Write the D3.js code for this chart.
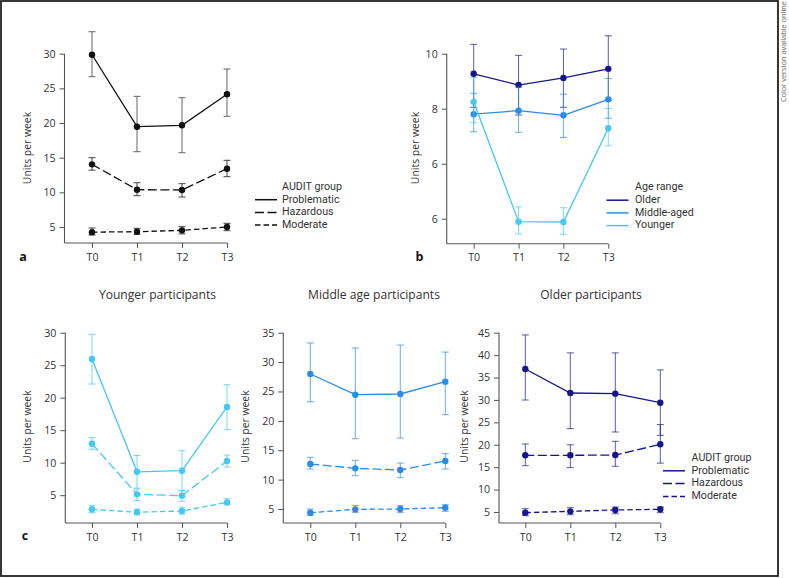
<!DOCTYPE html>
<html><head><meta charset="utf-8">
<script src="https://cdn.jsdelivr.net/npm/d3@7"></script>
<style>
html,body{margin:0;padding:0;background:#fff;}
svg text{font-family:"Open Sans","Noto Sans",sans-serif;}
svg text.leg{font-family:Roboto,"Open Sans",sans-serif;}
</style></head>
<body>
<svg id="chart" width="789" height="578"></svg>
<script>
// ---------------- DATA ----------------
const timepoints = ["T0", "T1", "T2", "T3"];
const auditGroups = ["Problematic", "Hazardous", "Moderate"];
const ageGroups = ["Older", "Middle-aged", "Younger"];

// Panel a: AUDIT groups, all participants
const aMean = [[29.85, 19.47, 19.67, 24.14], [14.04, 10.38, 10.34, 13.41], [4.26, 4.32, 4.52, 5.0]];
const aLow  = [[26.68, 15.86, 15.72, 20.97], [13.2, 9.52, 9.33, 12.26], [3.85, 3.95, 4.0, 4.47]];
const aHigh = [[33.17, 23.85, 23.65, 27.79], [15.0, 11.39, 11.25, 14.62], [4.86, 4.81, 5.05, 5.53]];
const aTicks = [5, 10, 15, 20, 25, 30];
const aTickLabels = ["5", "10", "15", "20", "25", "30"];

// Panel b: age ranges
const bMean = [[9.27, 8.86, 9.12, 9.45], [7.8, 7.93, 7.76, 8.34], [8.25, 3.89, 3.88, 7.29]];
const bLow  = [[8.05, 7.77, 8.05, 8.3], [7.16, 7.14, 6.95, 7.65], [7.49, 3.45, 3.43, 6.65]];
const bHigh = [[10.34, 9.94, 10.17, 10.65], [8.56, 8.78, 8.53, 9.1], [9.13, 4.43, 4.4, 8.01]];
const bTicks = [4, 6, 8, 10];
const bTickLabels = ["6", "6", "8", "10"];

// Panel c: younger participants
const cYoungMean = [[25.95, 8.6, 8.77, 18.57], [12.92, 5.13, 4.93, 10.26], [2.83, 2.37, 2.57, 3.9]];
const cYoungLow  = [[22.1, 6.1, 5.7, 15.08], [12.06, 4.2, 4.05, 9.34], [2.3, 2.0, 2.1, 3.5]];
const cYoungHigh = [[29.75, 11.1, 11.85, 22.0], [13.85, 5.95, 5.7, 11.18], [3.38, 2.88, 3.18, 4.46]];
const cYoungTicks = [5, 10, 15, 20, 25, 30];

// Panel c: middle age participants
const cMidMean = [[27.97, 24.45, 24.57, 26.67], [12.66, 11.92, 11.64, 13.17], [4.37, 4.94, 5.0, 5.22]];
const cMidLow  = [[23.26, 16.96, 17.08, 21.05], [11.8, 10.67, 10.33, 11.8], [3.93, 4.43, 4.43, 4.6]];
const cMidHigh = [[33.25, 32.4, 32.9, 31.7], [13.8, 13.28, 12.83, 14.41], [5.0, 5.62, 5.57, 5.73]];
const cMidTicks = [5, 10, 15, 20, 25, 30, 35];

// Panel c: older participants
const cOldMean = [[36.9, 31.55, 31.4, 29.38], [17.65, 17.65, 17.7, 20.1], [4.85, 5.15, 5.45, 5.6]];
const cOldLow  = [[29.98, 23.6, 22.85, 22.1], [15.33, 14.9, 15.2, 15.9], [4.17, 4.4, 4.62, 4.85]];
const cOldHigh = [[44.5, 40.5, 40.5, 36.7], [20.17, 20.0, 20.77, 24.5], [5.74, 5.96, 6.1, 6.1]];
const cOldTicks = [5, 10, 15, 20, 25, 30, 35, 40, 45];

// ---------------- STYLE ----------------
const cNavy = "#16168c", cMid = "#2a8ce8", cYoung = "#45c8f2";
const dashes = [null, "9,3.5", "5.5,3"];
const axisColor = "#555";
const textColor = "#333";

const svg = d3.select("#chart");

// Frame
svg.append("rect").attr("x", 1).attr("y", 1).attr("width", 777).attr("height", 575)
  .attr("fill", "none").attr("stroke", "#222").attr("stroke-width", 1.8);
svg.append("text").attr("transform", "translate(786,1) rotate(-90)")
  .attr("text-anchor", "end").attr("font-size", 7.4).attr("fill", "#666")
  .text("Color version available online");

function drawPanel(p) {
  const g = svg.append("g");
  const x = d3.scalePoint().domain(timepoints).range(p.xr);
  const y = d3.scaleLinear().domain(p.yd).range(p.yr);
  const bottom = p.bottom;

  // axis lines
  g.append("line").attr("x1", p.ax).attr("x2", p.ax).attr("y1", bottom).attr("y2", y(p.ticks[p.ticks.length - 1]))
    .attr("stroke", axisColor).attr("stroke-width", 1.1);
  g.append("line").attr("x1", p.ax).attr("x2", x(timepoints[3])).attr("y1", bottom).attr("y2", bottom)
    .attr("stroke", axisColor).attr("stroke-width", 1.1);

  const ya = d3.axisLeft(y).tickValues(p.ticks).tickSize(5).tickPadding(4)
    .tickFormat((d, i) => p.tickLabels[i]);
  const yg = g.append("g").attr("transform", `translate(${p.ax},0)`).call(ya);
  yg.select(".domain").remove();
  yg.selectAll("line").attr("stroke", axisColor);
  yg.attr("font-family", null).attr("font-size", null);
  yg.selectAll("text").attr("font-size", 10.6).attr("fill", textColor);

  const xa = d3.axisBottom(x).tickSize(5).tickPadding(5);
  const xg = g.append("g").attr("transform", `translate(0,${bottom})`).call(xa);
  xg.select(".domain").remove();
  xg.selectAll("line").attr("stroke", axisColor);
  xg.attr("font-family", null).attr("font-size", null);
  xg.selectAll("text").attr("font-size", 10.6).attr("fill", textColor);

  // y label
  g.append("text").attr("transform", `translate(${p.ylx},${p.yly}) rotate(-90)`)
    .attr("text-anchor", "middle").attr("dominant-baseline", "middle")
    .attr("font-size", 10.4).attr("fill", textColor).text("Units per week");

  // series
  p.mean.forEach((m, s) => {
    const col = p.colors[s];
    const dash = p.dash[s];
    timepoints.forEach((t, i) => {
      const cx = x(t);
      const eg = g.append("g").attr("stroke", p.errColors ? p.errColors[s] : col)
        .attr("stroke-opacity", p.errOpacity).attr("stroke-width", 1);
      eg.append("line").attr("x1", cx).attr("x2", cx).attr("y1", y(p.low[s][i])).attr("y2", y(p.high[s][i]));
      eg.append("line").attr("x1", cx - 3.5).attr("x2", cx + 3.5).attr("y1", y(p.low[s][i])).attr("y2", y(p.low[s][i]));
      eg.append("line").attr("x1", cx - 3.5).attr("x2", cx + 3.5).attr("y1", y(p.high[s][i])).attr("y2", y(p.high[s][i]));
    });
    const line = d3.line().x((d, i) => x(timepoints[i])).y(d => y(d));
    g.append("path").datum(m).attr("d", line).attr("fill", "none").attr("stroke", col)
      .attr("stroke-width", 1.3).attr("stroke-dasharray", dash);
    g.selectAll(null).data(m).enter().append("circle")
      .attr("cx", (d, i) => x(timepoints[i])).attr("cy", d => y(d)).attr("r", 3.2).attr("fill", col);
  });

  // legend
  if (p.legend) {
    const L = p.legend;
    const lg = g.append("g");
    lg.append("text").attr("class", "leg").attr("x", L.tx).attr("y", L.y0).attr("dominant-baseline", "middle")
      .attr("font-size", 10.7).attr("fill", textColor).text(L.title);
    L.labels.forEach((lab, i) => {
      const yy = L.y0 + L.dy * (i + 1);
      lg.append("line").attr("x1", L.lx).attr("x2", L.lx + 22).attr("y1", yy).attr("y2", yy)
        .attr("stroke", L.colors[i]).attr("stroke-width", 1.5).attr("stroke-dasharray", L.dash[i]);
      lg.append("text").attr("class", "leg").attr("x", L.tx).attr("y", yy).attr("dominant-baseline", "middle")
        .attr("font-size", 10.7).attr("fill", textColor).text(lab);
    });
  }
  if (p.letter) {
    svg.append("text").attr("x", p.letter[0]).attr("y", p.letter[1]).attr("text-anchor", "middle")
      .attr("dominant-baseline", "middle").attr("font-weight", "bold").attr("font-size", 12.5)
      .attr("fill", "#111").text(p.letter[2]);
  }
  if (p.title) {
    svg.append("text").attr("x", p.title[0]).attr("y", p.title[1]).attr("text-anchor", "middle")
      .attr("font-size", 12.1).attr("fill", textColor).text(p.title[2]);
  }
}

const black3 = ["#111", "#111", "#111"];

drawPanel({
  ax: 64.5, xr: [92, 227], yd: [5, 30], yr: [227, 53.7], bottom: 243,
  ticks: aTicks, tickLabels: aTickLabels, ylx: 28, yly: 148,
  mean: aMean, low: aLow, high: aHigh, colors: black3, errColors: ["#666", "#444", "#444"], errOpacity: 1,
  dash: dashes,
  legend: { title: "AUDIT group", labels: auditGroups, lx: 255, tx: 282, y0: 187, dy: 12.7, colors: black3, dash: dashes },
  letter: [23, 258, "a"]
});

drawPanel({
  ax: 446.7, xr: [473.7, 608.3], yd: [4, 10], yr: [218.7, 53.7], bottom: 243.7,
  ticks: bTicks, tickLabels: bTickLabels, ylx: 416.7, yly: 148,
  mean: bMean, low: bLow, high: bHigh, colors: [cNavy, cMid, cYoung], errOpacity: 0.7,
  dash: [null, null, null],
  legend: { title: "Age range", labels: ageGroups, lx: 606.5, tx: 635, y0: 187.5, dy: 12.7, colors: [cNavy, cMid, cYoung], dash: [null, null, null] },
  letter: [419.5, 258, "b"]
});

drawPanel({
  ax: 65.3, xr: [92, 227], yd: [5, 30], yr: [495.2, 332.7], bottom: 523,
  ticks: cYoungTicks, tickLabels: cYoungTicks.map(String), ylx: 28, yly: 426.5,
  mean: cYoungMean, low: cYoungLow, high: cYoungHigh, colors: [cYoung, cYoung, cYoung], errOpacity: 0.75,
  dash: dashes, letter: [25, 537, "c"], title: [157.5, 299, "Younger participants"]
});

drawPanel({
  ax: 283.3, xr: [310.3, 445.3], yd: [5, 35], yr: [509, 332.7], bottom: 523,
  ticks: cMidTicks, tickLabels: cMidTicks.map(String), ylx: 246.5, yly: 426.5,
  mean: cMidMean, low: cMidLow, high: cMidHigh, colors: [cMid, cMid, cMid], errOpacity: 0.7,
  dash: dashes, title: [374, 299, "Middle age participants"]
});

drawPanel({
  ax: 499, xr: [525.3, 660.3], yd: [5, 45], yr: [512, 332.7], bottom: 523,
  ticks: cOldTicks, tickLabels: cOldTicks.map(String), ylx: 465, yly: 426.5,
  mean: cOldMean, low: cOldLow, high: cOldHigh, colors: [cNavy, cNavy, cNavy], errOpacity: 0.7,
  dash: dashes,
  legend: { title: "AUDIT group", labels: auditGroups, lx: 663, tx: 691.5, y0: 458, dy: 12.8, colors: [cNavy, cNavy, cNavy], dash: dashes },
  title: [591, 299, "Older participants"]
});
</script>
</body></html>
